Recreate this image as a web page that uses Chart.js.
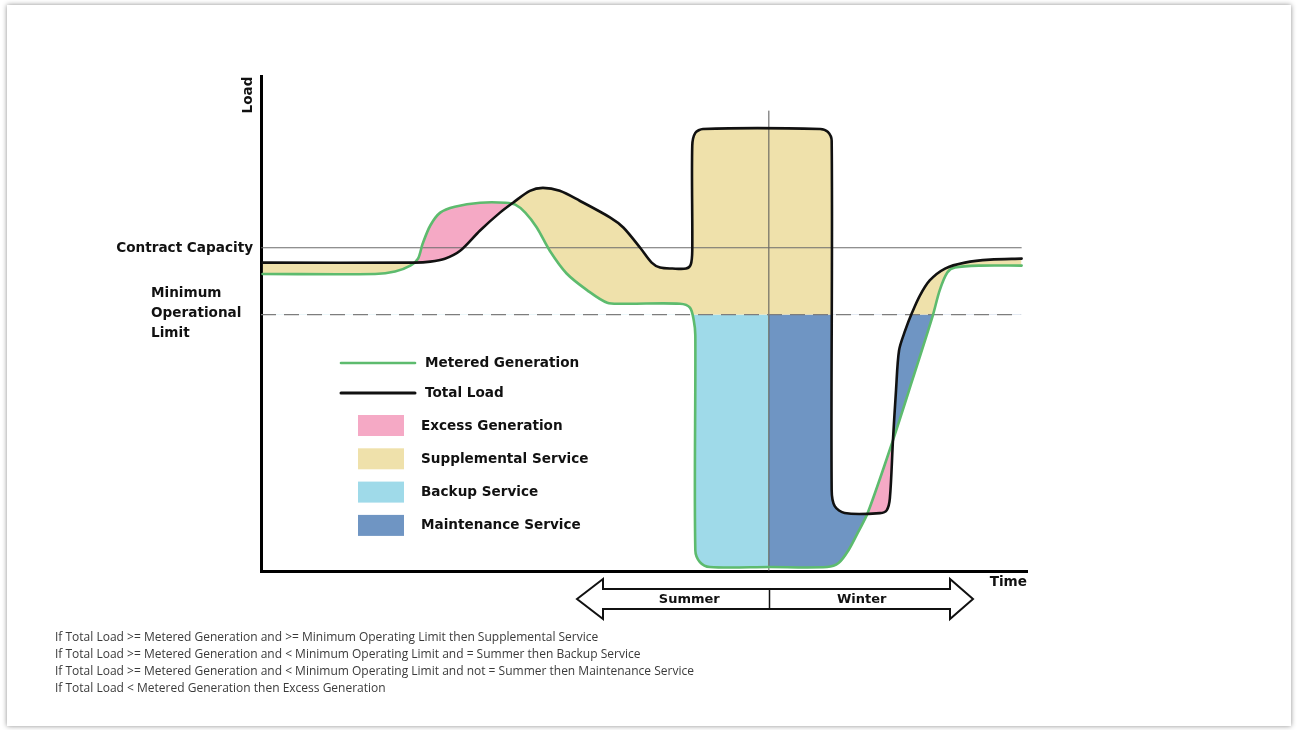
<!DOCTYPE html>
<html>
<head>
<meta charset="utf-8">
<title>Service types</title>
<script src="https://cdn.jsdelivr.net/npm/chart.js@4.4.0/dist/chart.umd.min.js"></script>
<style>
  html, body { margin: 0; padding: 0; background: #fff; }
  body { width: 1297px; height: 730px; position: relative; overflow: hidden; }
  #frame { position: absolute; left: 7px; top: 5px; width: 1284px; height: 721px; background: #fff;
           box-shadow: 0 0 5px rgba(0,0,0,0.45); }
  #chart { position: absolute; left: 0; top: 0; }
  #notes { position: absolute; left: 55px; top: 628px; font-family: "Open Sans", sans-serif;
           font-size: 12px; line-height: 17px; color: #3a3a3a; }
</style>
</head>
<body>
<div id="frame"></div>
<canvas id="chart" width="1297" height="730"></canvas>
<div id="notes">
  <div>If Total Load &gt;= Metered Generation and &gt;= Minimum Operating Limit then Supplemental Service</div>
  <div>If Total Load &gt;= Metered Generation and &lt; Minimum Operating Limit and = Summer then Backup Service</div>
  <div>If Total Load &gt;= Metered Generation and &lt; Minimum Operating Limit and not = Summer then Maintenance Service</div>
  <div>If Total Load &lt; Metered Generation then Excess Generation</div>
</div>
<script>
// time / load (0..100 on both axes)
var LOAD_TIME = [0.2, 20.1, 22.1, 24.0, 26.0, 28.6, 31.2, 32.9, 35.1, 36.8, 39.0, 41.6, 45.6, 47.3, 49.5,
                 51.0, 52.1, 53.7, 55.5, 56.1, 56.3, 56.3, 56.7, 57.7, 73.0, 74.0, 74.5, 74.5, 74.9, 76.2,
                 80.8, 81.7, 82.1, 82.5, 82.9, 83.3, 84.1, 85.0, 86.0, 87.3, 89.3, 91.9, 95.2, 99.3];
var TOTAL_LOAD = [62.3, 62.3, 62.5, 63.1, 64.7, 68.8, 72.4, 74.4, 76.8, 77.4, 76.8, 74.8, 71.4, 69.4, 65.3,
                  62.3, 61.3, 61.1, 61.1, 61.9, 64.7, 85.9, 88.5, 89.3, 89.3, 88.7, 86.9, 16.3, 13.1, 11.7,
                  11.7, 12.3, 14.7, 26.4, 36.5, 44.6, 48.6, 52.2, 55.6, 58.7, 61.1, 62.3, 62.9, 63.1];

var GEN_TIME = [0.2, 14.9, 17.5, 19.5, 20.5, 21.1, 22.1, 23.4, 25.3, 28.6, 31.9, 33.2, 34.5, 36.0, 37.7,
                39.9, 42.6, 45.2, 47.5, 54.7, 56.0, 56.5, 56.7, 56.7, 57.3, 58.6, 66.3, 73.9, 75.4, 76.7,
                77.9, 79.2, 82.5, 85.1, 87.7, 88.6, 89.6, 90.6, 93.9, 99.3];
var METERED_GEN = [60.0, 60.0, 60.5, 61.7, 63.1, 66.1, 69.8, 72.4, 73.6, 74.4, 74.4, 74.0, 72.4, 69.4, 64.7,
                   60.1, 56.7, 54.2, 54.0, 54.0, 53.2, 50.6, 47.6, 4.2, 1.8, 0.8, 0.8, 0.8, 1.6, 4.2,
                   7.7, 11.7, 26.4, 38.9, 51.6, 56.7, 60.3, 61.3, 61.7, 61.7];

var CONTRACT_CAPACITY = 65.3;
var MIN_OPERATIONAL = 51.8;
var SEASON_SPLIT = 66.3;
var SEASONS = ["Summer", "Winter"];

var LEGEND_LINES = ["Metered Generation", "Total Load"];
var LEGEND_AREAS = ["Excess Generation", "Supplemental Service", "Backup Service", "Maintenance Service"];
var AREA_COLORS = ["#f5a9c5", "#efe1ab", "#9fdae9", "#6f95c3"];
var GREEN = "#5dbb6e";
var TENSION = 0.3;

function zip(xs, ys) {
    return xs.map(function (x, i) { return { x: x, y: ys[i] }; });
}
var loadPts = zip(LOAD_TIME, TOTAL_LOAD);
var genPts = zip(GEN_TIME, METERED_GEN);

function helper(label, data, fill) {
    return { label: label, data: data, fill: fill, borderWidth: 0, borderColor: "transparent",
             pointRadius: 0, tension: TENSION };
}

var datasets = [
    { label: "Total Load", data: loadPts, borderColor: "#111", borderWidth: 2.6, pointRadius: 0,
      tension: TENSION, fill: false, borderJoinStyle: "round", borderCapStyle: "round" },
    { label: "Metered Generation", data: genPts, borderColor: GREEN, borderWidth: 2.6, pointRadius: 0,
      tension: TENSION, fill: false, borderJoinStyle: "round", borderCapStyle: "round" },
    { label: "Contract Capacity", data: [{ x: 0, y: CONTRACT_CAPACITY }, { x: 99.3, y: CONTRACT_CAPACITY }],
      borderColor: "#6b6b6b", borderWidth: 1.2, pointRadius: 0, fill: false },
    { label: "Minimum Operational Limit", data: [{ x: 0, y: MIN_OPERATIONAL }, { x: 99.1, y: MIN_OPERATIONAL }],
      borderColor: "#7d7d7d", borderWidth: 1.3, borderDash: [15, 8], pointRadius: 0, fill: false },
    { label: "Season", data: [{ x: SEASON_SPLIT, y: 0 }, { x: SEASON_SPLIT, y: 93 }],
      borderColor: "#555", borderWidth: 1, pointRadius: 0, fill: false },
    // fill layers: the last one is painted first
    helper("Excess Generation", loadPts, { target: 1, above: "transparent", below: AREA_COLORS[0] }),
    helper("mask", loadPts, { target: { value: MIN_OPERATIONAL }, above: "transparent", below: "#ffffff" }),
    helper("Backup Service", genPts, { target: 10, above: "transparent", below: AREA_COLORS[2] }),
    helper("Maintenance Service", genPts, { target: 11, above: "transparent", below: AREA_COLORS[3] }),
    helper("Supplemental Service", loadPts, { target: 1, above: AREA_COLORS[1], below: "transparent" }),
    helper("summer", [{ x: 0, y: MIN_OPERATIONAL }, { x: SEASON_SPLIT, y: MIN_OPERATIONAL }], false),
    helper("winter", [{ x: SEASON_SPLIT, y: MIN_OPERATIONAL }, { x: 100, y: MIN_OPERATIONAL }], false)
];

var annotate = {
    id: "annotate",
    afterDraw: function (chart) {
        var ctx = chart.ctx, xs = chart.scales.x, ys = chart.scales.y;
        ctx.save();
        ctx.fillStyle = "#111";
        ctx.font = 'bold 13.6px "DejaVu Sans"';
        ctx.textBaseline = "middle";

        ctx.textAlign = "right";
        ctx.fillText("Contract Capacity", xs.left - 8, ys.getPixelForValue(CONTRACT_CAPACITY) + 1);
        ctx.textAlign = "left";
        var my = ys.getPixelForValue(MIN_OPERATIONAL);
        ["Minimum", "Operational", "Limit"].forEach(function (t, i) {
            ctx.fillText(t, 151, my - 21 + i * 20);
        });

        ctx.save();
        ctx.translate(xs.left - 13, ys.top + 19);
        ctx.rotate(-Math.PI / 2);
        ctx.textAlign = "center";
        ctx.fillText("Load", 0, 0);
        ctx.restore();

        ctx.textAlign = "right";
        ctx.fillText("Time", xs.right, ys.bottom + 11);

        // legend
        ctx.textAlign = "left";
        ctx.lineCap = "round";
        [GREEN, "#111"].forEach(function (c, i) {
            var y = 363 + i * 30;
            ctx.strokeStyle = c;
            ctx.lineWidth = i ? 3 : 2.6;
            ctx.beginPath(); ctx.moveTo(341, y); ctx.lineTo(415, y); ctx.stroke();
            ctx.fillText(LEGEND_LINES[i], 425, y);
        });
        LEGEND_AREAS.forEach(function (t, i) {
            var y = 426 + i * 33.3;
            ctx.fillStyle = AREA_COLORS[i];
            ctx.fillRect(358, y - 11, 46, 21);
            ctx.fillStyle = "#111";
            ctx.fillText(t, 421, y);
        });

        // season arrow
        var l = 577, r = 973, hl = 603, hr = 950, cy = 599;
        ctx.beginPath();
        ctx.moveTo(l, cy);
        ctx.lineTo(hl, cy - 20); ctx.lineTo(hl, cy - 10);
        ctx.lineTo(hr, cy - 10); ctx.lineTo(hr, cy - 20);
        ctx.lineTo(r, cy);
        ctx.lineTo(hr, cy + 20); ctx.lineTo(hr, cy + 10);
        ctx.lineTo(hl, cy + 10); ctx.lineTo(hl, cy + 20);
        ctx.closePath();
        ctx.fillStyle = "#fff"; ctx.fill();
        ctx.strokeStyle = "#111"; ctx.lineWidth = 2; ctx.lineJoin = "miter"; ctx.stroke();
        var sx = Math.round(xs.getPixelForValue(SEASON_SPLIT)) + 0.5;
        ctx.lineWidth = 1.5;
        ctx.beginPath(); ctx.moveTo(sx, cy - 10); ctx.lineTo(sx, cy + 10); ctx.stroke();
        ctx.fillStyle = "#111";
        ctx.font = 'bold 13px "DejaVu Sans"';
        ctx.textAlign = "center";
        ctx.fillText(SEASONS[0], (hl + sx) / 2 + 3, cy + 1);
        ctx.fillText(SEASONS[1], (sx + hr) / 2 + 2, cy + 1);
        ctx.restore();
    }
};

new Chart(document.getElementById("chart").getContext("2d"), {
    type: "line",
    data: { datasets: datasets },
    options: {
        responsive: false,
        animation: false,
        layout: { padding: { left: 261, right: 270, top: 76, bottom: 159 } },
        plugins: { legend: { display: false }, tooltip: { enabled: false } },
        scales: {
            x: { type: "linear", min: 0, max: 100,
                 grid: { display: false, drawTicks: false }, ticks: { display: false },
                 border: { display: true, color: "#000", width: 3 } },
            y: { type: "linear", min: 0, max: 100,
                 grid: { display: false, drawTicks: false }, ticks: { display: false },
                 border: { display: true, color: "#000", width: 3 } }
        }
    },
    plugins: [annotate]
});
</script>
</body>
</html>
